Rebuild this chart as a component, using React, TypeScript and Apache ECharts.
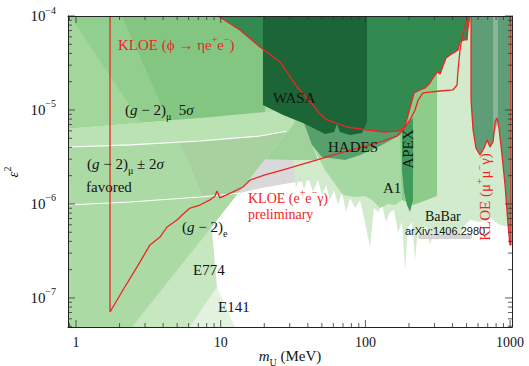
import React, { useEffect, useRef } from "react";
import * as echarts from "echarts";

// Axis extents, in log10 units: x = log10(m_U / MeV), y = log10(eps^2)
const X_MIN = -0.0553;
const X_MAX = 3.013;
const Y_MIN = -7.309;
const Y_MAX = -4;

// ---- data, [log10(m/MeV), log10(eps^2)] ----
const favoredUpper = [[-0.06, -5.394], [0.373, -5.372], [0.857, -5.33], [1.272, -5.277], [1.457, -5.226], [1.617, -5.202]];
const favoredLower = [[-0.06, -6.011], [0.373, -5.979], [0.857, -5.926], [1.133, -5.883], [1.285, -5.83], [1.479, -5.777], [1.617, -5.745]];
const e141 = [[-0.06, -4], [-0.041, -4], [0.456, -5.213], [0.822, -6.117], [0.974, -6.883], [1.123, -7.394], [-0.06, -7.394]];
const e774 = [[-0.06, -4], [0.318, -4], [0.65, -5.138], [0.788, -5.585], [0.892, -5.957], [0.94, -6.277], [0.974, -6.883], [0.75, -7.394], [-0.06, -7.394]];
const babarEdge = [
  [1.5, -5.532], [1.52, -5.83], [1.548, -5.691], [1.576, -5.851], [1.603, -5.702], [1.638, -5.872], [1.672, -5.745],
  [1.7, -5.904], [1.728, -5.798], [1.755, -5.957], [1.783, -5.851], [1.811, -6.011], [1.838, -5.872], [1.866, -6.085],
  [1.894, -5.936], [1.928, -6.043], [1.963, -5.957], [1.997, -6.191], [2.032, -6.457], [2.059, -6.043], [2.087, -6.085],
  [2.115, -6.011], [2.142, -6.191], [2.17, -6.085], [2.197, -6.064], [2.225, -6.298], [2.253, -6.191], [2.274, -6.702],
  [2.294, -6.255], [2.322, -6.191], [2.343, -6.596], [2.364, -6.255], [2.391, -6.362], [2.419, -6.223], [2.446, -6.436],
  [2.474, -6.298], [2.502, -6.383], [2.529, -6.277], [2.557, -6.362], [2.585, -6.298], [2.619, -6.383], [2.654, -6.33],
  [2.688, -6.223], [2.723, -6.17], [2.792, -6.191], [2.861, -6.149], [2.93, -6.223], [3.02, -6.255],
];
const babarTop = [[3.02, -4], [1.548, -4], [1.479, -5.106]];
const gMinus2e = [[-0.06, -7.394], [0.343, -7.394], [0.926, -6.265], [1.126, -5.875], [1.306, -5.525], [1.5, -5.16], [2.084, -4], [-0.06, -4]];
const regionX = [[1.306, -5.525], [1.5, -5.16], [1.548, -5.021], [1.631, -5.106], [1.631, -5.372], [1.672, -5.532], [1.5, -5.532]];
const bandGrey = [[0.705, -5.33], [0.857, -5.33], [1.272, -5.277], [1.457, -5.226], [1.121, -5.878], [0.878, -5.926], [0.788, -5.585]];
const muon5sigmaEdge = [[-0.06, -5.191], [0.373, -5.138], [0.857, -5.085], [1.306, -5.021], [1.55, -4.98]];
const strip = [...muon5sigmaEdge, [1.5, -5.16], [1.457, -5.226], [1.272, -5.277], [0.857, -5.33], [0.373, -5.372], [-0.06, -5.394]];
const ul3 = [[-0.06, -5.191], [0.373, -5.138], [0.857, -5.085], [1.306, -5.021], [1.306, -4], [-0.06, -4]];
const ul2 = [[-0.06, -4], [0.318, -4], [0.636, -5.106], [0.373, -5.138], [-0.06, -5.191]];
const ul1 = [[-0.06, -4], [-0.041, -4], [0.449, -5.128], [0.373, -5.138], [-0.06, -5.191]];
const a1 = [[1.583, -5.106], [1.631, -5.372], [1.721, -5.638], [1.845, -5.904], [1.928, -5.926], [1.997, -5.915], [2.046, -5.957], [2.101, -6.043], [2.156, -6.0], [2.205, -6.011], [2.253, -5.957], [2.253, -5.213], [2.135, -5.234], [1.873, -5.181], [1.686, -5.043]];
const mami = [[2.239, -5.223], [2.274, -5.17], [2.308, -4.979], [2.336, -4.819], [2.377, -4.787], [2.412, -4.766], [2.446, -4.713], [2.467, -4.66], [2.495, -4.596], [2.495, -5.915], [2.405, -5.968], [2.329, -6.011], [2.253, -5.957], [2.239, -5.319]];
const apex = [[2.253, -5.191], [2.329, -5.085], [2.329, -5.957], [2.308, -6.085], [2.287, -6.011], [2.267, -5.872], [2.253, -5.638]];
const hades = [[1.548, -5.021], [1.631, -5.372], [1.7, -5.5], [1.859, -5.532], [1.963, -5.479], [2.101, -5.383], [2.239, -5.266], [2.274, -5.17], [2.274, -4.787], [1.548, -4.787]];
const kloeEta = [
  [0.981, -4], [1.133, -4.149], [1.272, -4.33], [1.41, -4.489], [1.527, -4.755], [1.638, -4.947], [1.686, -5.043],
  [1.735, -5.106], [1.873, -5.181], [2.011, -5.213], [2.135, -5.234], [2.239, -5.223], [2.274, -5.17], [2.308, -4.979],
  [2.336, -4.819], [2.377, -4.787], [2.412, -4.766], [2.446, -4.713], [2.467, -4.66], [2.495, -4.596], [2.516, -4.617],
  [2.536, -4.532], [2.557, -4.447], [2.585, -4.415], [2.619, -4.383], [2.64, -4.362], [2.654, -4.277], [2.681, -4.255],
  [2.702, -4.255], [2.709, -4.128], [2.723, -4],
];
const wasa = [[1.292, -4], [2.011, -4], [2.011, -5.128], [1.977, -5.245], [1.894, -5.266], [1.824, -5.234], [1.804, -5.149], [1.783, -5.234], [1.721, -5.255], [1.652, -5.202], [1.569, -5.138], [1.431, -5.053], [1.292, -4.947]];
const kloeMuMu = [
  [2.73, -4], [2.73, -4.894], [2.744, -5.213], [2.764, -5.404], [2.792, -5.479], [2.82, -5.404], [2.841, -5.319],
  [2.861, -5.394], [2.882, -5.34], [2.896, -5.128], [2.909, -5.085], [2.923, -5.191], [2.944, -5.479], [2.965, -5.798],
  [2.986, -6.223], [2.999, -6.436], [3.006, -6.436], [3.006, -4],
];
const muMuStripe = [[2.882, -4], [2.916, -4], [2.916, -5.106], [2.882, -5.319]];
const kloeEEgamma = [
  [0.235, -4], [0.235, -7.149], [0.325, -6.915], [0.422, -6.67], [0.511, -6.436], [0.581, -6.351], [0.629, -6.245],
  [0.698, -6.17], [0.733, -6.117], [0.788, -6.043], [0.857, -6.011], [0.926, -5.957], [0.961, -5.915], [0.974, -5.862],
  [0.995, -5.936], [1.085, -5.872], [1.154, -5.819], [1.203, -5.745], [1.306, -5.691], [1.431, -5.638], [1.548, -5.585],
  [1.666, -5.532], [1.804, -5.468], [1.894, -5.426], [2.011, -5.383], [2.122, -5.33], [2.218, -5.277], [2.26, -5.213],
  [2.308, -5.106], [2.343, -5.0], [2.364, -4.894], [2.398, -4.819], [2.446, -4.809], [2.516, -4.798], [2.605, -4.787],
  [2.633, -4.734], [2.64, -4.574], [2.654, -4.362], [2.668, -4.223], [2.688, -4.117], [2.709, -4],
];
const xTickLabels = [0, 1, 2, 3];
const yTickLabels = [-4, -5, -6, -7];

const SERIF = "'Liberation Serif', 'DejaVu Serif', serif";
const SANS = "'Liberation Sans', 'DejaVu Sans', sans-serif";
const RED = "#f02424";
const INK = "#141414";

function buildTicks() {
  const t: number[][] = [];
  for (const v of xTickLabels) { t.push([v, 1, 0], [v, 1, 1]); }
  const xm = [Math.log10(0.9)];
  for (let n = 0; n <= 2; n++) for (let k = 2; k <= 9; k++) xm.push(Math.log10(k * Math.pow(10, n)));
  for (const v of xm) if (v > X_MIN && v < X_MAX) t.push([v, 0, 0], [v, 0, 1]);
  for (const v of yTickLabels) { t.push([v, 1, 2], [v, 1, 3]); }
  for (let n = -8; n <= -5; n++) for (let k = 2; k <= 9; k++) {
    const v = Math.log10(k) + n;
    if (v > Y_MIN && v < Y_MAX) t.push([v, 0, 2], [v, 0, 3]);
  }
  return t;
}

const rich = (color: string, size = 15) => ({
  b: { fontFamily: SERIF, fontSize: size, color, lineHeight: 22, verticalAlign: "middle" },
  i: { fontFamily: SERIF, fontSize: size, color, fontStyle: "italic", lineHeight: 22, verticalAlign: "middle" },
  s: { fontFamily: SERIF, fontSize: Math.round(size * 0.68), color, lineHeight: 12, verticalAlign: "top" },
  u: { fontFamily: SERIF, fontSize: Math.round(size * 0.68), color, lineHeight: 12, verticalAlign: "bottom" },
});

function txt(x: number, y: number, text: string, o: any = {}) {
  const color = o.color || INK;
  return {
    type: "text", x, y, z: 100, rotation: o.rot || 0,
    style: {
      text, fill: color, fontFamily: o.font || SERIF, fontSize: o.size || 15,
      textAlign: o.align || "left", textVerticalAlign: "middle",
      rich: o.rich ? rich(color, o.size || 15) : undefined,
    },
  };
}

export default function App() {
  const ref = useRef<HTMLDivElement>(null);
  useEffect(() => {
    const chart = echarts.init(ref.current!, null, { renderer: "svg" });
    const regions = [
      { pts: [...favoredUpper, ...favoredLower.slice().reverse()], color: "#d9d9d9" },
      { pts: e141, color: "#e3f3df" },
      { pts: e774, color: "#c7e7c1" },
      { pts: [...babarTop, ...babarEdge], color: "#d1ebcc" },
      { pts: gMinus2e, color: "#acdaa5" },
      { pts: regionX, color: "#9fd29a" },
      { pts: bandGrey, color: "#a7d19f" },
      { pts: strip, color: "#bae2b3" },
      { pts: ul3, color: "#82c681" },
      { pts: ul2, color: "#92ce8d" },
      { pts: ul1, color: "#a2d69b" },
      { pts: a1, color: "#a6d8a1" },
      { pts: mami, color: "#8ecc8a" },
      { pts: apex, color: "#3f9a5b" },
      { pts: hades, color: "#55a06b" },
      { pts: kloeEta, color: "#338a50" },
      { pts: wasa, color: "#1b6536" },
      { pts: kloeMuMu, color: "#5e9e76" },
      { pts: muMuStripe, color: "#8db39b" },
    ];
    const lineS = (data: number[][], color: string, width: number) => ({
      type: "line", data, showSymbol: false, symbol: "none", smooth: false, clip: true, silent: true, z: 4,
      lineStyle: { color, width }, emphasis: { disabled: true },
    });
    const axisCommon = {
      type: "value", splitLine: { show: false }, axisTick: { show: false }, z: 10,
      axisLine: { show: true, onZero: false, lineStyle: { color: "#222", width: 1 } },
    };
    const option: any = {
      animation: false,
      backgroundColor: "#ffffff",
      grid: { left: 68, right: 17, top: 16, bottom: 39 },
      xAxis: [
        { ...axisCommon, min: X_MIN, max: X_MAX, position: "bottom",
          axisLabel: { customValues: xTickLabels, formatter: (v: number) => String(Math.round(Math.pow(10, v))), fontFamily: SERIF, fontSize: 14, color: INK, margin: 8 } },
        { ...axisCommon, min: X_MIN, max: X_MAX, position: "top", axisLabel: { show: false } },
      ],
      yAxis: [
        { ...axisCommon, min: Y_MIN, max: Y_MAX, position: "left",
          axisLabel: { customValues: yTickLabels, formatter: (v: number) => `{b|10}{s|−${Math.abs(v)}}`, margin: 12, rich: rich(INK, 15) } },
        { ...axisCommon, min: Y_MIN, max: Y_MAX, position: "right", axisLabel: { show: false } },
      ],
      series: [
        {
          type: "custom", coordinateSystem: "cartesian2d", clip: true, silent: true, z: 2,
          data: regions.map((_, i) => [1, -5, i]),
          renderItem: (params: any, api: any) => {
            const r = regions[params.dataIndex];
            return { type: "polygon", shape: { points: r.pts.map((p) => api.coord(p)) }, style: { fill: r.color } };
          },
        },
        lineS(favoredUpper.filter((p) => p[0] <= 1.46), "#ffffff", 1.2),
        lineS(favoredLower.filter((p) => p[0] <= 1.14), "#ffffff", 1.2),
        lineS(kloeEta, RED, 1.3),
        lineS(kloeEEgamma, RED, 1.3),
        lineS(kloeMuMu, RED, 1.3),
        {
          type: "custom", coordinateSystem: "cartesian2d", clip: false, silent: true, z: 6,
          data: buildTicks(),
          renderItem: (params: any, api: any) => {
            const v = api.value(0), major = api.value(1), side = api.value(2);
            const L = major ? 7 : 4;
            let a: number[], b: number[];
            if (side === 0) { a = api.coord([v, Y_MIN]); b = [a[0], a[1] - L]; }
            else if (side === 1) { a = api.coord([v, Y_MAX]); b = [a[0], a[1] + L]; }
            else if (side === 2) { a = api.coord([X_MIN, v]); b = [a[0] + L, a[1]]; }
            else { a = api.coord([X_MAX, v]); b = [a[0] - L, a[1]]; }
            return { type: "line", shape: { x1: a[0], y1: a[1], x2: b[0], y2: b[1] }, style: { stroke: "#333", lineWidth: 0.8 } };
          },
        },
      ],
      graphic: [
        txt(118, 45, "{b|KLOE (ϕ → ηe}{s|+}{b|e}{s|−}{b|)}", { color: RED, rich: true }),
        txt(125, 110, "{b|(}{i|g}{b| − 2)}{u|μ}{b|  5}{i|σ}", { rich: true }),
        txt(87, 164, "{b|(}{i|g}{b| − 2)}{u|μ}{b| ± 2}{i|σ}", { rich: true }),
        txt(86, 187, "favored"),
        txt(182, 227, "{b|(}{i|g}{b| − 2)}{u|e}", { rich: true }),
        txt(193, 270, "E774"),
        txt(218, 307, "E141"),
        txt(273, 98, "WASA"),
        txt(328, 147, "HADES"),
        txt(408, 149, "APEX", { align: "center", rot: Math.PI / 2 }),
        txt(383, 188, "A1"),
        txt(425, 216, "BaBar", { size: 14 }),
        { type: "rect", z: 99, shape: { x: 418, y: 234, width: 54, height: 5, r: 2 }, style: { fill: "#d4d4d4" } },
        txt(405, 231, "arXiv:1406.2980", { font: SANS, size: 11 }),
        txt(248, 198, "{b|KLOE (e}{s|+}{b|e}{s|−}{b|γ)}", { color: RED, rich: true, size: 14 }),
        txt(248, 214, "preliminary", { color: RED, size: 14 }),
        txt(485, 197, "{b|KLOE (μ}{s|+}{b|μ}{s|−}{b|γ)}", { color: RED, rich: true, align: "center", rot: Math.PI / 2 }),
        txt(13, 172, "{i|ε}{s|2}", { rich: true, align: "center", rot: Math.PI / 2 }),
        txt(290, 356, "{i|m}{u|U}{b| (MeV)}", { rich: true, align: "center" }),
      ],
    };
    chart.setOption(option);
    return () => chart.dispose();
  }, []);
  return <div ref={ref} style={{ position: "absolute", left: 0, top: 0, width: 529, height: 366 }} />;
}
